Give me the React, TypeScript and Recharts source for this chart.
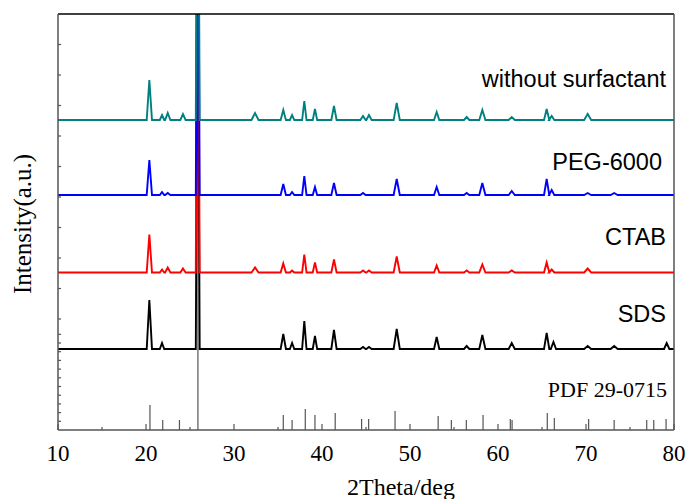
import { ComposedChart, Line, XAxis, YAxis, ReferenceLine } from "recharts";

// 2theta axis
const xTicks = [10, 15, 20, 25, 30, 35, 40, 45, 50, 55, 60, 65, 70, 75, 80];
const xTickLabels = ["10", "20", "30", "40", "50", "60", "70", "80"];

// unlabelled intensity ticks (a.u.), upper panel and PDF panel
const yTicksUpper = [385.5, 355, 324.5, 294, 263.5, 233, 202.5, 172, 141.5, 111];
const yTicksLower = [8.7, 17.4, 26.1, 34.8, 43.5, 52.2, 60.9, 69.6, 78.3, 87, 95.7];

// PDF 29-0715 reference sticks
const pdfPos = [20.45, 21.9, 23.8, 25.9, 35.6, 36.6, 38.1, 39.2, 41.5, 44.5, 45.3, 48.3, 53.2, 54.7, 56.4, 58.3, 61.4, 61.6, 65.6, 66.4, 70.3, 73.2, 76.9, 77.7, 79.1];
const pdfHeight = [25, 10, 10, 416, 15, 10, 21, 15, 17, 11, 11, 19, 14, 10, 10, 15, 11, 10, 17, 12, 11, 10, 10, 10, 11];

// stacked patterns: baseline offset + [2theta, peak height, half width]
const sdsBase = 81;
const sdsPeaks = [
  [20.38, 49, 0.3], [21.82, 6, 0.25], [25.88, 420, 0.22], [35.6, 15, 0.3], [36.6, 6, 0.25],
  [37.99, 28, 0.25], [39.2, 13, 0.25], [41.36, 19, 0.3], [44.66, 2, 0.3], [45.34, 2, 0.3],
  [48.49, 20, 0.35], [53.03, 12, 0.3], [56.44, 3, 0.3], [58.22, 14, 0.35], [61.56, 6, 0.35],
  [65.53, 16, 0.3], [66.3, 7, 0.3], [70.19, 3, 0.4], [73.2, 3, 0.4], [79.17, 6, 0.3],
];
const ctabBase = 157.5;
const ctabPeaks = [
  [20.38, 38, 0.3], [21.82, 3, 0.25], [22.47, 5, 0.3], [24.2, 4, 0.3], [25.88, 420, 0.22],
  [32.39, 5, 0.4], [35.6, 9, 0.3], [36.6, 2, 0.25], [37.99, 18, 0.25], [39.2, 10, 0.25],
  [41.36, 13, 0.3], [44.66, 2, 0.3], [45.34, 2, 0.3], [48.49, 16, 0.35], [53.03, 7, 0.3],
  [56.44, 2, 0.3], [58.22, 8, 0.35], [61.56, 2, 0.35], [65.53, 10, 0.3], [66.1, 3, 0.3],
  [70.19, 4, 0.4],
];
const pegBase = 235;
const pegPeaks = [
  [20.38, 35, 0.3], [21.82, 3, 0.25], [22.47, 2, 0.3], [25.88, 420, 0.22], [35.6, 11, 0.3],
  [36.6, 3, 0.25], [37.99, 19, 0.25], [39.2, 8, 0.25], [41.36, 12, 0.3], [44.66, 2, 0.3],
  [48.49, 16, 0.35], [53.03, 8, 0.3], [56.44, 2, 0.3], [58.22, 12, 0.35], [61.56, 4, 0.35],
  [65.53, 16, 0.3], [66.1, 5, 0.3], [70.19, 2, 0.4], [73.2, 2, 0.4],
];
const noneBase = 310;
const nonePeaks = [
  [20.38, 40, 0.3], [21.82, 5, 0.25], [22.47, 7, 0.3], [24.2, 6, 0.3], [25.88, 420, 0.22],
  [32.39, 7, 0.4], [35.6, 10, 0.3], [36.6, 5, 0.25], [37.99, 19, 0.25], [39.2, 11, 0.25],
  [41.36, 14, 0.3], [44.66, 4, 0.3], [45.34, 5, 0.3], [48.49, 17, 0.35], [53.03, 8, 0.3],
  [56.44, 3, 0.3], [58.22, 10, 0.35], [61.56, 3, 0.35], [65.53, 11, 0.3], [66.1, 4, 0.3],
  [70.19, 6, 0.4],
];

function pattern(base: number, peaks: number[][]) {
  const pts = [{ x: 10, y: base }];
  peaks.forEach(([p, h, w]) => {
    pts.push({ x: p - w, y: base }, { x: p, y: base + h }, { x: p + w, y: base });
  });
  pts.push({ x: 80, y: base });
  return pts;
}

const series = [
  { name: "SDS", color: "#000000", data: pattern(sdsBase, sdsPeaks) },
  { name: "CTAB", color: "#ff0000", data: pattern(ctabBase, ctabPeaks) },
  { name: "PEG-6000", color: "#0000ff", data: pattern(pegBase, pegPeaks) },
  { name: "without surfactant", color: "#008080", data: pattern(noneBase, nonePeaks) },
];

const serif = "'Liberation Serif', 'Times New Roman', serif";
const sans = "'Liberation Sans', Arial, sans-serif";
const axisColor = "#555";

const XTick = (props: any) => {
  const { x, y, payload } = props;
  const major = xTickLabels.includes(String(payload.value));
  return (
    <g>
      <line x1={x} x2={x} y1={y} y2={y - (major ? 6 : 3)} stroke={axisColor} strokeWidth={1.2} />
      {major && (
        <text x={x} y={y + 31} textAnchor="middle" fontFamily={serif} fontSize={23} fill="#000">
          {payload.value}
        </text>
      )}
    </g>
  );
};

const YTick = (props: any) => {
  const { x, y, dir } = props;
  return <line x1={x} x2={x + 3 * dir} y1={y} y2={y} stroke={axisColor} strokeWidth={1.2} />;
};

export default function App() {
  return (
    <div style={{ position: "absolute", left: 0, top: 0, width: 688, height: 499, background: "#fff" }}>
      <ComposedChart width={688} height={499} margin={{ top: 13, right: 13, bottom: 68, left: 57 }}>
        <XAxis
          xAxisId="b"
          type="number"
          dataKey="x"
          domain={[10, 80]}
          ticks={xTicks}
          interval={0}
          height={1}
          tickSize={0}
          tickMargin={0}
          tickLine={false}
          tick={(p: any) => <XTick {...p} />}
          axisLine={{ stroke: axisColor, strokeWidth: 1.5 }}
          allowDataOverflow
        />
        <XAxis
          xAxisId="t"
          orientation="top"
          type="number"
          dataKey="x"
          domain={[10, 80]}
          height={1}
          tick={false}
          tickLine={false}
          axisLine={{ stroke: "#000", strokeWidth: 1.5 }}
        />
        <YAxis
          yAxisId="l"
          type="number"
          domain={[0, 416]}
          ticks={[...yTicksLower, ...yTicksUpper]}
          interval={0}
          width={1}
          tickSize={0}
          tickMargin={0}
          tickLine={false}
          tick={(p: any) => <YTick {...p} dir={1} />}
          axisLine={{ stroke: axisColor, strokeWidth: 1.5 }}
          allowDataOverflow
        />
        <YAxis
          yAxisId="r"
          orientation="right"
          type="number"
          domain={[0, 416]}
          ticks={[...yTicksLower, ...yTicksUpper]}
          interval={0}
          width={1}
          tickSize={0}
          tickMargin={0}
          tickLine={false}
          tick={(p: any) => <YTick {...p} dir={-1} />}
          axisLine={{ stroke: axisColor, strokeWidth: 1.5 }}
        />
        {pdfPos.map((p, i) => (
          <ReferenceLine
            key={"pdf" + i}
            xAxisId="b"
            yAxisId="l"
            segment={[{ x: p, y: 0 }, { x: p, y: pdfHeight[i] }]}
            stroke="#555"
            strokeWidth={1.2}
            ifOverflow="hidden"
          />
        ))}
        {series.map((s) => (
          <Line
            key={s.name}
            xAxisId="b"
            yAxisId="l"
            data={s.data}
            dataKey="y"
            type="linear"
            stroke={s.color}
            strokeWidth={1.9}
            dot={false}
            activeDot={false}
            isAnimationActive={false}
          />
        ))}
      </ComposedChart>
      <svg width={688} height={499} style={{ position: "absolute", left: 0, top: 0, pointerEvents: "none" }}>
        <text x={666} y={87} textAnchor="end" fontFamily={sans} fontSize={23.5} fill="#000">without surfactant</text>
        <text x={662} y={170} textAnchor="end" fontFamily={sans} fontSize={23.5} fill="#000">PEG-6000</text>
        <text x={666} y={245} textAnchor="end" fontFamily={sans} fontSize={23.5} fill="#000">CTAB</text>
        <text x={666} y={322} textAnchor="end" fontFamily={sans} fontSize={23.5} fill="#000">SDS</text>
        <text x={667} y={397} textAnchor="end" fontFamily={serif} fontSize={22} fill="#000">PDF 29-0715</text>
        <text x={401} y={495} textAnchor="middle" fontFamily={serif} fontSize={24} fill="#000">2Theta/deg</text>
        <text
          x={31}
          y={224}
          textAnchor="middle"
          fontFamily={serif}
          fontSize={25}
          fill="#000"
          transform="rotate(-90 31 224)"
        >
          Intensity(a.u.)
        </text>
      </svg>
    </div>
  );
}
